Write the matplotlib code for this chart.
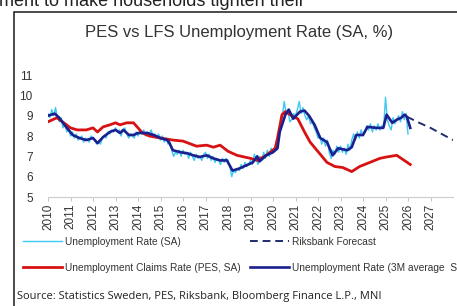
import numpy as np
import matplotlib
matplotlib.use("Agg")
import matplotlib.pyplot as plt
from matplotlib.patches import Rectangle

# monthly LFS unemployment rate (SA), Jan 2010 .. Jan 2026
lfs_monthly = [
    9.1, 8.9, 9.3, 9.0, 9.4, 8.9, 8.7, 8.9, 8.4, 8.6, 8.2, 8.4,   # 2010
    8.0, 8.2, 7.9, 8.1, 7.8, 7.9, 8.0, 7.7, 7.9, 7.8, 7.7, 8.0,   # 2011
    7.9, 7.8, 7.6, 7.7, 7.6, 7.9, 8.0, 7.9, 8.2, 8.1, 8.3, 8.2,   # 2012
    8.4, 8.2, 8.3, 8.0, 8.3, 8.4, 8.1, 7.9, 8.1, 8.0, 7.9, 8.2,   # 2013
    8.0, 8.2, 8.1, 8.3, 8.0, 8.2, 8.1, 8.3, 8.0, 8.1, 7.9, 8.1,   # 2014
    7.8, 8.0, 7.7, 7.9, 7.6, 7.7, 7.3, 7.0, 7.2, 7.1, 7.3, 7.0,   # 2015
    7.3, 7.1, 7.2, 6.9, 7.2, 7.0, 6.8, 7.1, 6.9, 7.0, 6.8, 7.1,   # 2016
    7.2, 6.9, 7.1, 6.8, 7.0, 6.7, 6.9, 6.8, 6.6, 6.9, 6.7, 6.9,   # 2017
    6.8, 6.5, 6.0, 6.3, 6.2, 6.4, 6.3, 6.6, 6.4, 6.7, 6.5, 6.6,   # 2018
    6.8, 6.6, 7.1, 6.9, 6.6, 7.0, 6.8, 7.2, 6.9, 7.3, 7.0, 7.4,   # 2019
    7.2, 7.5, 7.3, 7.9, 8.4, 9.0, 9.7, 9.1, 9.2, 8.7, 8.8, 9.1,   # 2020
    9.0, 9.3, 9.7, 9.1, 9.4, 9.0, 8.8, 9.0, 8.6, 8.7, 8.4, 8.2,   # 2021
    7.9, 8.0, 7.6, 7.9, 7.5, 7.8, 7.2, 6.9, 7.3, 7.1, 7.5, 7.2,   # 2022
    7.5, 7.2, 7.4, 7.1, 7.6, 7.3, 7.8, 8.1, 7.8, 8.2, 7.9, 8.3,   # 2023
    8.0, 8.2, 8.5, 8.3, 8.6, 8.2, 8.5, 8.3, 8.6, 8.3, 8.5, 8.4,   # 2024
    9.9, 8.8, 8.5, 8.3, 8.9, 8.6, 8.8, 9.0, 8.7, 9.2, 8.8, 9.1,   # 2025
    8.1,                                                          # 2026
]

# LFS 3M average
lfs3m_x = [2010.0, 2010.3, 2010.5, 2010.8, 2011.1, 2011.4, 2011.7, 2012.0, 2012.2, 2012.45,
           2012.75, 2013.0, 2013.2, 2013.35, 2013.6, 2013.8, 2014.0, 2014.4, 2014.7, 2015.0,
           2015.3, 2015.4, 2015.55, 2015.9, 2016.2, 2016.45, 2016.75, 2017.05, 2017.35, 2017.65,
           2017.95, 2018.2, 2018.5, 2018.8, 2019.1, 2019.3, 2019.4, 2019.7, 2020.0, 2020.2,
           2020.3, 2020.55, 2020.7, 2020.9, 2021.2, 2021.4, 2021.6, 2021.85, 2022.1, 2022.4,
           2022.65, 2022.9, 2023.3, 2023.5, 2023.7, 2024.0, 2024.2, 2024.6, 2024.9, 2025.05,
           2025.3, 2025.5, 2025.7, 2025.85, 2025.95, 2026.1]
lfs3m_y = [9.0, 9.1, 8.9, 8.45, 8.05, 7.9, 7.8, 7.9, 7.65, 7.95,
           8.2, 8.3, 8.15, 8.3, 8.05, 8.05, 8.15, 8.15, 8.05, 7.9,
           7.8, 7.65, 7.3, 7.2, 7.15, 7.05, 6.97, 7.05, 6.9, 6.8,
           6.8, 6.3, 6.4, 6.55, 6.7, 7.0, 6.75, 7.05, 7.2, 7.4,
           8.2, 9.05, 9.3, 8.85, 9.2, 9.25, 9.0, 8.55, 7.9, 7.7,
           7.05, 7.4, 7.3, 7.45, 8.05, 8.05, 8.45, 8.4, 8.4, 9.05,
           8.65, 8.8, 8.9, 9.05, 8.95, 8.4]

# PES unemployment claims rate
pes_x = [2010.0, 2010.4, 2010.7, 2011.0, 2011.3, 2011.7, 2012.0, 2012.2, 2012.45, 2012.75,
         2013.0, 2013.2, 2013.5, 2013.8, 2014.0, 2014.2, 2014.5, 2015.0, 2015.55, 2016.0,
         2016.6, 2017.05, 2017.35, 2017.65, 2018.0, 2018.4, 2019.0, 2019.3, 2019.7, 2020.1,
         2020.2, 2020.4, 2020.55, 2020.9, 2021.1, 2021.4, 2021.65, 2021.95, 2022.4, 2022.75,
         2023.1, 2023.5, 2023.85, 2024.3, 2024.75, 2025.05, 2025.5, 2025.7, 2026.1]
pes_y = [8.7, 8.9, 8.65, 8.4, 8.3, 8.3, 8.4, 8.2, 8.45, 8.55,
         8.65, 8.55, 8.65, 8.65, 8.4, 8.15, 8.0, 7.9, 7.8, 7.75,
         7.5, 7.55, 7.45, 7.55, 7.25, 7.05, 6.9, 6.8, 7.05, 7.4,
         7.9, 9.05, 9.2, 8.95, 8.85, 8.2, 7.7, 7.3, 6.7, 6.5,
         6.45, 6.25, 6.5, 6.7, 6.9, 6.97, 7.05, 6.9, 6.6]

# Riksbank forecast
fc_x = [2025.95, 2026.5, 2027.0, 2027.5, 2028.0]
fc_y = [8.95, 8.65, 8.4, 8.1, 7.8]

years = list(range(2010, 2028))

W, H = 457, 306
fig = plt.figure(figsize=(W / 100, H / 100), dpi=100)
plt.rcParams['font.family'] = ['Liberation Sans', 'DejaVu Sans']

# frame around the chart
fig.patches.append(Rectangle((13.5 / W, -0.05), 1.2, 1 - 11.5 / H + 0.05,
                             transform=fig.transFigure, fill=False,
                             edgecolor='#1a1a1a', linewidth=1.1))
# cut-off article text above the chart
fig.text(-1 / W, 1 - 6 / H, "ment to make households tighten their",
         fontsize=13, va='baseline', ha='left', color='#222222')

ax = fig.add_axes([48 / W, 1 - 197 / H, 405 / W, (197 - 54.7) / H])
mx = 2010 + np.arange(len(lfs_monthly)) / 12
ax.plot(mx, lfs_monthly, color='#3cc8f0', lw=1.0, zorder=2, label='Unemployment Rate (SA)')
ax.plot(pes_x, pes_y, color='#d81212', lw=2.0, zorder=3, label='Unemployment Claims Rate (PES, SA)')
ax.plot(fc_x, fc_y, color='#1f2d6e', lw=1.4, ls=(0, (4, 2.5)), zorder=3, label='Riksbank Forecast')
ax.plot(lfs3m_x, lfs3m_y, color='#1b1f8f', lw=1.9, zorder=4, label='Unemployment Rate (3M average  SA)')

ax.set_xlim(2010, 2028)
ax.set_ylim(5, 12)
ax.set_yticks(range(5, 12))
ax.set_xticks(years)
ax.set_xticklabels([str(y) for y in years], rotation=90)
ax.tick_params(axis='y', length=0, labelsize=8.5, pad=11, colors='#333333')
ax.tick_params(axis='x', length=3, width=0.6, color='#bbbbbb', labelsize=8.5, pad=2,
               labelcolor='#333333')
for s in ['top', 'right', 'left']:
    ax.spines[s].set_visible(False)
ax.spines['bottom'].set_color('#cccccc')
ax.spines['bottom'].set_linewidth(0.8)

fig.text(239 / W, 1 - 32 / H, "PES vs LFS Unemployment Rate (SA, %)",
         fontsize=12, ha='center', va='center', color='#333333')

h, l = ax.get_legend_handles_labels()
fig.legend(h, l, ncol=2,
           loc='upper left', bbox_to_anchor=(23 / W, 1 - 237 / H),
           frameon=False, fontsize=7.3, handlelength=3.8, handletextpad=0.3,
           columnspacing=1.0, labelspacing=1.55, borderpad=0, borderaxespad=0,
           labelcolor='#333333')

fig.text(17 / W, 1 - 296 / H,
         "Source: Statistics Sweden, PES, Riksbank, Bloomberg Finance L.P., MNI",
         fontsize=8, ha='left', va='center', color='#222222', family=['Open Sans', 'DejaVu Sans'])

fig.savefig("out.png", dpi=100)
